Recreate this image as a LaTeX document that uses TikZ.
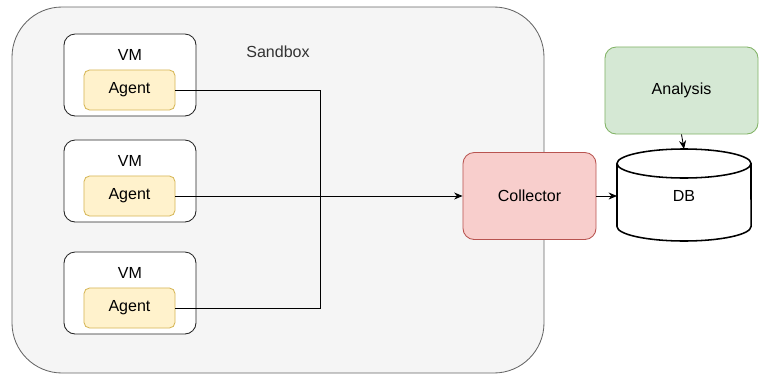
\documentclass[tikz,border=0pt]{standalone}
\usepackage{fontspec}
\setmainfont{Liberation Sans}
\usetikzlibrary{arrows.meta}
\definecolor{sandboxfill}{HTML}{F5F5F5}
\definecolor{sandboxline}{HTML}{666666}
\definecolor{agentfill}{HTML}{FFF2CC}
\definecolor{agentline}{HTML}{D6B656}
\definecolor{collfill}{HTML}{F8CECC}
\definecolor{collline}{HTML}{B85450}
\definecolor{anafill}{HTML}{D5E8D4}
\definecolor{analine}{HTML}{82B366}
\tikzset{
  vmbox/.style={draw=black!85, fill=white, rounded corners=0.28cm, line width=0.6pt,
    minimum width=3.3cm, minimum height=2.05cm},
  agentbox/.style={draw=agentline, fill=agentfill, rounded corners=0.14cm, line width=0.6pt,
    minimum width=2.275cm, minimum height=1cm},
  wire/.style={line width=0.6pt},
  feed/.style={line width=0.6pt, -{Stealth[length=6pt,width=5pt]}}
}
\begin{document}
\begin{tikzpicture}[x=0.025cm, y=-0.025cm]
{\fontsize{11.4}{13}\selectfont
\useasboundingbox (0,0) rectangle (759,376);

% Sandbox area
\draw [fill=sandboxfill, draw=sandboxline, line width=0.6pt, rounded corners=1.25cm]
  (12,7) rectangle (544,373);
\node [text=black!80] (sandbox) at (278,52) {Sandbox};

% Virtual machines with their agents
\node [vmbox] (vm1) at (130,75) {};
\node (vmlab1) at (130,55) {VM};
\node [agentbox] (agent1) at (129.5,90) {Agent};

\node [vmbox] (vm2) at (130,181) {};
\node (vmlab2) at (130,161) {VM};
\node [agentbox] (agent2) at (129.5,196) {Agent};

\node [vmbox] (vm3) at (130,293) {};
\node (vmlab3) at (130,273) {VM};
\node [agentbox] (agent3) at (129.5,308) {Agent};

% Collector
\node [draw=collline, fill=collfill, rounded corners=0.28cm, line width=0.6pt,
  minimum width=3.325cm, minimum height=2.175cm] (collector) at (529.5,196) {Collector};

% Analysis
\node [draw=analine, fill=anafill, rounded corners=0.28cm, line width=0.6pt,
  minimum width=3.825cm, minimum height=2.175cm] (analysis) at (681.5,90.5) {Analysis};

% DB drawn as a cylinder
\draw [fill=white, line width=1.1pt] (617,163.5) -- (617,226.5)
  arc [start angle=180, end angle=360, x radius=1.675cm, y radius=0.3625cm]
  -- (751,163.5);
\draw [fill=white, line width=1.1pt] (684,163.5) ellipse [x radius=1.675cm, y radius=0.3625cm];
\node (db) at (684,196) {DB};
\coordinate (dbtop) at (684,149);
\coordinate (dbleft) at (617,196);

% Wires from the agents to the collector
\coordinate (joint) at (320,196);
\draw [wire] (agent1.east) -| (joint);
\draw [wire] (agent3.east) -| (joint);
\draw [feed] (agent2.east) -- (collector.west);

% Collector to DB, Analysis to DB
\draw [feed] (collector.east) -- (dbleft);
\draw [feed] (analysis.south) -- (dbtop);
}
\end{tikzpicture}
\end{document}
